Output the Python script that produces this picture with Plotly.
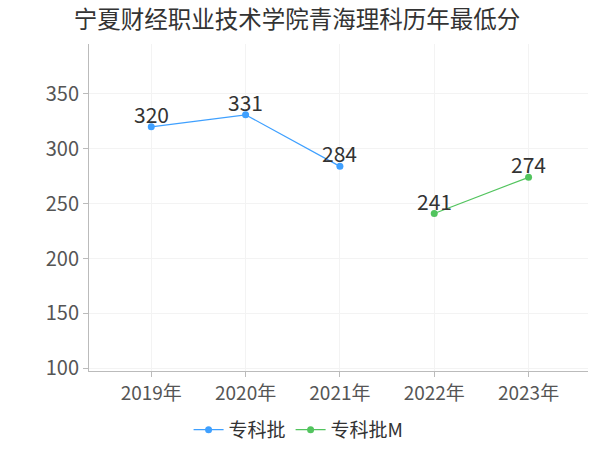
import plotly.graph_objects as go

years = ["2019年", "2020年", "2021年", "2022年", "2023年"]
zk_years = ["2019年", "2020年", "2021年"]
zk_scores = [320, 331, 284]
zkm_years = ["2022年", "2023年"]
zkm_scores = [241, 274]

font_family = "Noto Sans CJK SC"

fig = go.Figure()

# 专科批 line
fig.add_trace(go.Scatter(x=zk_years, y=zk_scores, name="专科批", mode="lines+markers",
                         line={"color": "#3fa0ff", "width": 1.2},
                         marker={"color": "#3fa0ff", "size": 7}))

# 专科批M line
fig.add_trace(go.Scatter(x=zkm_years, y=zkm_scores, name="专科批M", mode="lines+markers",
                         line={"color": "#52c45e", "width": 1.2},
                         marker={"color": "#52c45e", "size": 7}))

# value labels sit just above each point
for xs, ys in [(zk_years, zk_scores), (zkm_years, zkm_scores)]:
    for x, y in zip(xs, ys):
        fig.add_annotation(x=x, y=y, text=str(y), showarrow=False, yanchor="middle", yshift=13,
                           font={"size": 21, "color": "#333333", "family": font_family})

fig.update_layout(width=600, height=450,
                  paper_bgcolor="white", plot_bgcolor="white",
                  margin={"l": 89, "r": 12, "t": 44, "b": 79, "autoexpand": False},
                  font={"family": font_family, "color": "#555555"},
                  title={"text": "宁夏财经职业技术学院青海理科历年最低分", "x": 0.495, "xanchor": "center",
                         "y": 0.955, "yanchor": "middle",
                         "font": {"size": 23.5, "color": "#333333", "family": font_family}},
                  xaxis={"type": "category", "categoryorder": "array", "categoryarray": years,
                         "range": [-0.66, 4.63], "showline": True, "linecolor": "#bbbbbb",
                         "showgrid": True, "gridcolor": "#f3f3f3", "ticks": "outside",
                         "ticklen": 5, "tickcolor": "#bbbbbb", "automargin": False,
                         "tickfont": {"size": 19, "color": "#555555"}},
                  yaxis={"range": [97.5, 395.5], "tickvals": [100, 150, 200, 250, 300, 350],
                         "showline": True, "linecolor": "#bbbbbb", "showgrid": True,
                         "gridcolor": "#f3f3f3", "zeroline": False, "ticks": "outside",
                         "ticklen": 5, "tickcolor": "#bbbbbb", "automargin": False,
                         "tickfont": {"size": 20, "color": "#555555"}},
                  legend={"orientation": "h", "x": 0.42, "xanchor": "center", "y": -0.18,
                          "yanchor": "middle", "font": {"size": 19, "color": "#333333"},
                          "itemwidth": 30})

# drop the default page margin so the figure fills the window; hide the modebar
fig.write_html("out.html", config={"displayModeBar": False},
               post_script="document.body.style.margin = '0';")
